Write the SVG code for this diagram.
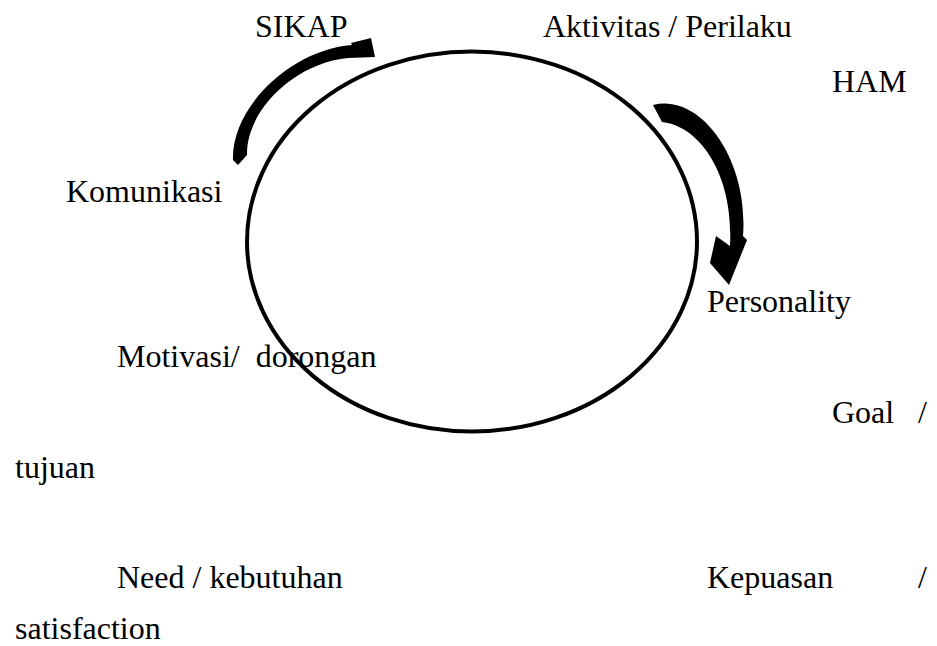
<svg xmlns="http://www.w3.org/2000/svg" width="937" height="646" viewBox="0 0 937 646">
<style>
text{font-family:"Liberation Serif","Times New Roman",serif;font-size:32px;fill:#000}
.ring{fill:none;stroke:#000;stroke-width:4}
.arr{fill:#000;stroke:none}
</style>
<rect width="937" height="646" fill="#fff"/>
<g id="cycle"><ellipse class="ring" cx="472" cy="241.5" rx="225" ry="190"/></g>
<g id="connectors">
<path class="arr" d="M233,160 C231,108 290,50 352,45 L351,43 L371,38 L375,57 L348,58 C295,63 246,110 247,155 L238,165 Z"/>
<path class="arr" d="M653,105 C701,93 749,160 743,236 L747,240 L729,285 L710,263 L716,236 L730,246 C734,175 700,126 662,122 Z"/>
</g>
<g id="sikap"><text x="255" y="37">SIKAP</text></g>
<g id="aktivitas"><text x="543" y="37">Aktivitas / Perilaku</text></g>
<g id="ham"><text x="832" y="92">HAM</text></g>
<g id="komunikasi"><text x="66" y="202">Komunikasi</text></g>
<g id="personality"><text x="707" y="312">Personality</text></g>
<g id="motivasi"><text x="117" y="367" xml:space="preserve">Motivasi/  dorongan</text></g>
<g id="goal"><text y="423"><tspan x="832">Goal</tspan><tspan x="918">/</tspan></text><text x="15" y="478">tujuan</text></g>
<g id="need"><text x="117" y="588">Need / kebutuhan</text></g>
<g id="kepuasan"><text y="588"><tspan x="707">Kepuasan</tspan><tspan x="918">/</tspan></text><text x="15" y="639">satisfaction</text></g>
</svg>
